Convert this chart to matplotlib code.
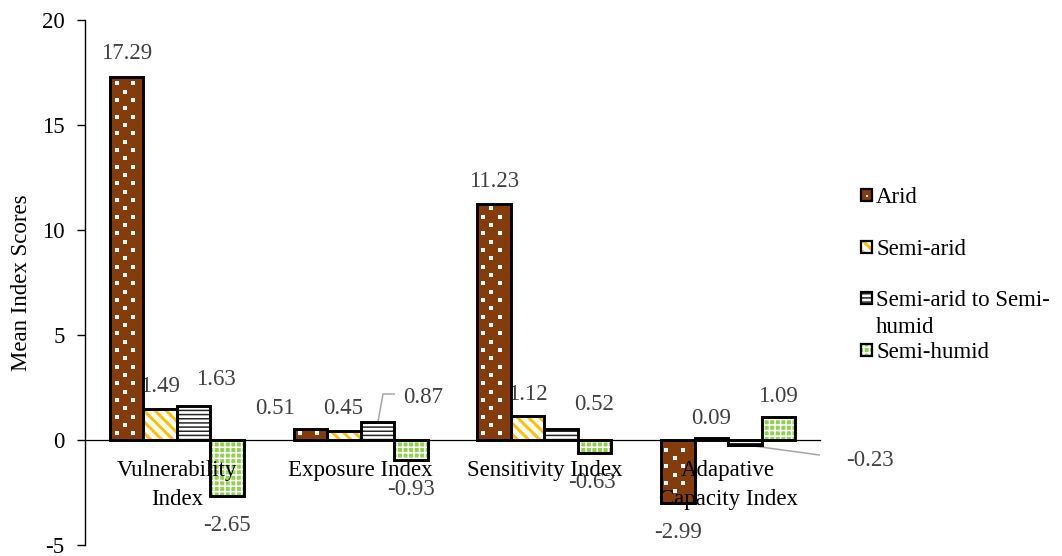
import matplotlib
matplotlib.use('Agg')
import matplotlib.pyplot as plt
from matplotlib.patches import Rectangle
import numpy as np

plt.rcParams['font.family'] = 'Liberation Serif'
plt.rcParams['axes.unicode_minus'] = False

# ── Data ──────────────────────────────────────────────────────────────────────
categories = ['Vulnerability\nIndex', 'Exposure Index', 'Sensitivity Index',
              'Adapative\nCapacity Index']
series_names = ['Arid', 'Semi-arid', 'Semi-arid to Semi-\nhumid', 'Semi-humid']
arid = [17.29, 0.51, 11.23, -2.99]
semi_arid = [1.49, 0.45, 1.12, 0.09]
semi_arid_to_humid = [1.63, 0.87, 0.52, -0.23]
semi_humid = [-2.65, -0.93, -0.63, 1.09]
yticks = [-5, 0, 5, 10, 15, 20]

series = [arid, semi_arid, semi_arid_to_humid, semi_humid]

# fill, hatch, hatch colour, hatch line width  (arid dots are drawn by hand)
STYLES = [
    ('#843C0C', '', 'white', 1.0),
    ('white', '\\\\\\', '#FFC000', 2.2),
    ('white', '----', '#262626', 1.1),
    ('#92D050', '+++', 'white', 1.1),
]

# data label offsets from bar end, pixels (x right, y down)
LABEL_OFF = [
    [(0, -26), (-35, -23), (0, -25), (0, 28)],
    [(0, -24), (-1, -24), (0, -24.5), (0, -22)],
    [(22, -28), (46, -26), (33, -27), (125, 14)],
    [(0, 28), (0, 27.5), (-3, 27), (0, -23)],
]
# leader lines for dragged labels, pixel offsets from bar end
LEADERS = {
    (2, 1): [(0.6, 0), (5.6, -27.7), (17.6, -27.7)],
    (2, 3): [(0, 0), (88, 12), (95, 12)],
}

FS = 16.5
LABEL_GREY = '#404040'
W, H = 1062, 556
BASE = 7.6  # baseline sits this many px below the digit centre
AX_LEFT, AX_TOP, AX_W, AX_H = 85, 20, 735, 525


def hatch_width(artist, lw):
    """Draw this artist with its own hatch line width."""
    orig = artist.draw

    def draw(renderer):
        with plt.rc_context({'hatch.linewidth': lw}):
            orig(renderer)
    artist.draw = draw


def put_lines(target, x, y, text, step, transform=None, **kw):
    """Write multi-line text one line at a time; y is the first baseline."""
    for j, line in enumerate(text.split('\n')):
        if transform is None:
            target.annotate(line, xy=(x[0], x[1]), xytext=(y[0], y[1] - j * step),
                            textcoords='offset pixels', va='baseline', **kw)
        else:
            target.text(x, y - j * step / H, line, transform=transform,
                        va='baseline', **kw)


fig = plt.figure(figsize=(W / 100, H / 100), dpi=100)
ax = fig.add_axes([AX_LEFT / W, 1 - (AX_TOP + AX_H) / H, AX_W / W, AX_H / H])
ax.set_xlim(-0.5, 3.5)
ax.set_ylim(-5, 20)

px_x = AX_W / 4.0   # pixels per category
px_y = AX_H / 25.0  # pixels per y unit


def to_px(xd, yd):
    return AX_LEFT + (xd + 0.5) * px_x, AX_TOP + (20 - yd) * px_y


def to_data(px, py):
    return (px - AX_LEFT) / px_x - 0.5, 20 - (py - AX_TOP) / px_y


def dot_fill(x0, x1, y0, y1, step=8.33, inset=3.5):
    """Staggered white dot lattice inside a bar (pixel grid fixed to the figure)."""
    (a, b), (c, d) = to_px(x0, max(y0, y1)), to_px(x1, min(y0, y1))
    pts = []
    for n in range(int((b + inset) // step) + 1, int((d - inset) // step) + 1):
        py = n * step
        off = step if n % 2 else 0.0
        m0 = int((a + inset - off) // (2 * step)) + 1
        for m in range(m0, m0 + 10):
            px = off + m * 2 * step
            if px > c - inset:
                break
            pts.append(to_data(px, py))
    return np.array(pts).reshape(-1, 2)


x = np.arange(len(categories))
bw = 0.1825
shifts = np.array([-1.5, -0.5, 0.5, 1.5]) * bw

for k, vals in enumerate(series):
    face, hatch, hcol, hlw = STYLES[k]
    with plt.rc_context({'hatch.linewidth': hlw}):
        bars = ax.bar(x + shifts[k], vals, bw, color=face, edgecolor=hcol,
                      hatch=hatch, linewidth=0, zorder=2)
    for b in bars:
        hatch_width(b, hlw)
        if k == 0:
            d = dot_fill(b.get_x(), b.get_x() + b.get_width(), 0, b.get_height())
            ax.scatter(d[:, 0], d[:, 1], s=4.8, marker='s', c='white',
                       linewidths=0, zorder=2.5)
    ax.bar(x + shifts[k], vals, bw, fill=False, edgecolor='black',
           linewidth=2.1, zorder=3)

    for i, v in enumerate(vals):
        dx, dy = LABEL_OFF[k][i]
        ax.annotate(f'{v:.2f}', xy=(x[i] + shifts[k], v),
                    xytext=(dx, -(dy + BASE)), textcoords='offset pixels',
                    ha='center', va='baseline', fontsize=FS,
                    color=LABEL_GREY, zorder=1)
        if (k, i) in LEADERS:
            pts = LEADERS[(k, i)]
            lx = [x[i] + shifts[k] + p[0] / px_x for p in pts]
            ly = [v - p[1] / px_y for p in pts]
            ax.plot(lx, ly, color='#A6A6A6', lw=1.1, zorder=1.5,
                    solid_capstyle='butt')

# category labels under the zero line
for i, cat in enumerate(categories):
    put_lines(ax, (x[i], 0), (0, -(28 + BASE)), cat, 29,
              ha='center', fontsize=FS, color='black', zorder=4)

# axes styling
for s in ['top', 'right']:
    ax.spines[s].set_visible(False)
ax.spines['bottom'].set_position(('data', 0))
ax.spines['bottom'].set_linewidth(0.9)
ax.spines['bottom'].set_zorder(1.8)
ax.spines['left'].set_linewidth(1.0)
ax.set_xticks([])
ax.set_yticks(yticks)
ax.tick_params(axis='y', direction='out', length=5.8, width=1.0,
               pad=9, labelsize=FS)

fig.text(22 / W, 1 - 282.5 / H, 'Mean Index Scores', rotation=90,
         ha='center', va='center', fontsize=FS)

# legend
legend_y = [195, 247, 298, 350]
for k, name in enumerate(series_names):
    face, hatch, hcol, hlw = STYLES[k]
    cy = legend_y[k]
    with plt.rc_context({'hatch.linewidth': hlw}):
        r = Rectangle((861 / W, 1 - (cy + 6) / H), 11 / W, 12 / H,
                      transform=fig.transFigure, facecolor=face,
                      edgecolor=hcol, hatch=hatch, linewidth=0)
    hatch_width(r, hlw)
    fig.patches.append(r)
    if k == 0:
        fig.patches.append(Rectangle((865.5 / W, 1 - (cy + 2) / H), 2 / W, 2 / H,
                                     transform=fig.transFigure,
                                     facecolor='white', linewidth=0))
    fig.patches.append(Rectangle((861 / W, 1 - (cy + 6) / H), 11 / W, 12 / H,
                                 transform=fig.transFigure, fill=False,
                                 edgecolor='black', linewidth=1.6))
    put_lines(fig, 876 / W, 1 - (cy + BASE) / H, name, 27,
              transform=fig.transFigure, ha='left', fontsize=FS)

fig.savefig('out.png', dpi=100)
